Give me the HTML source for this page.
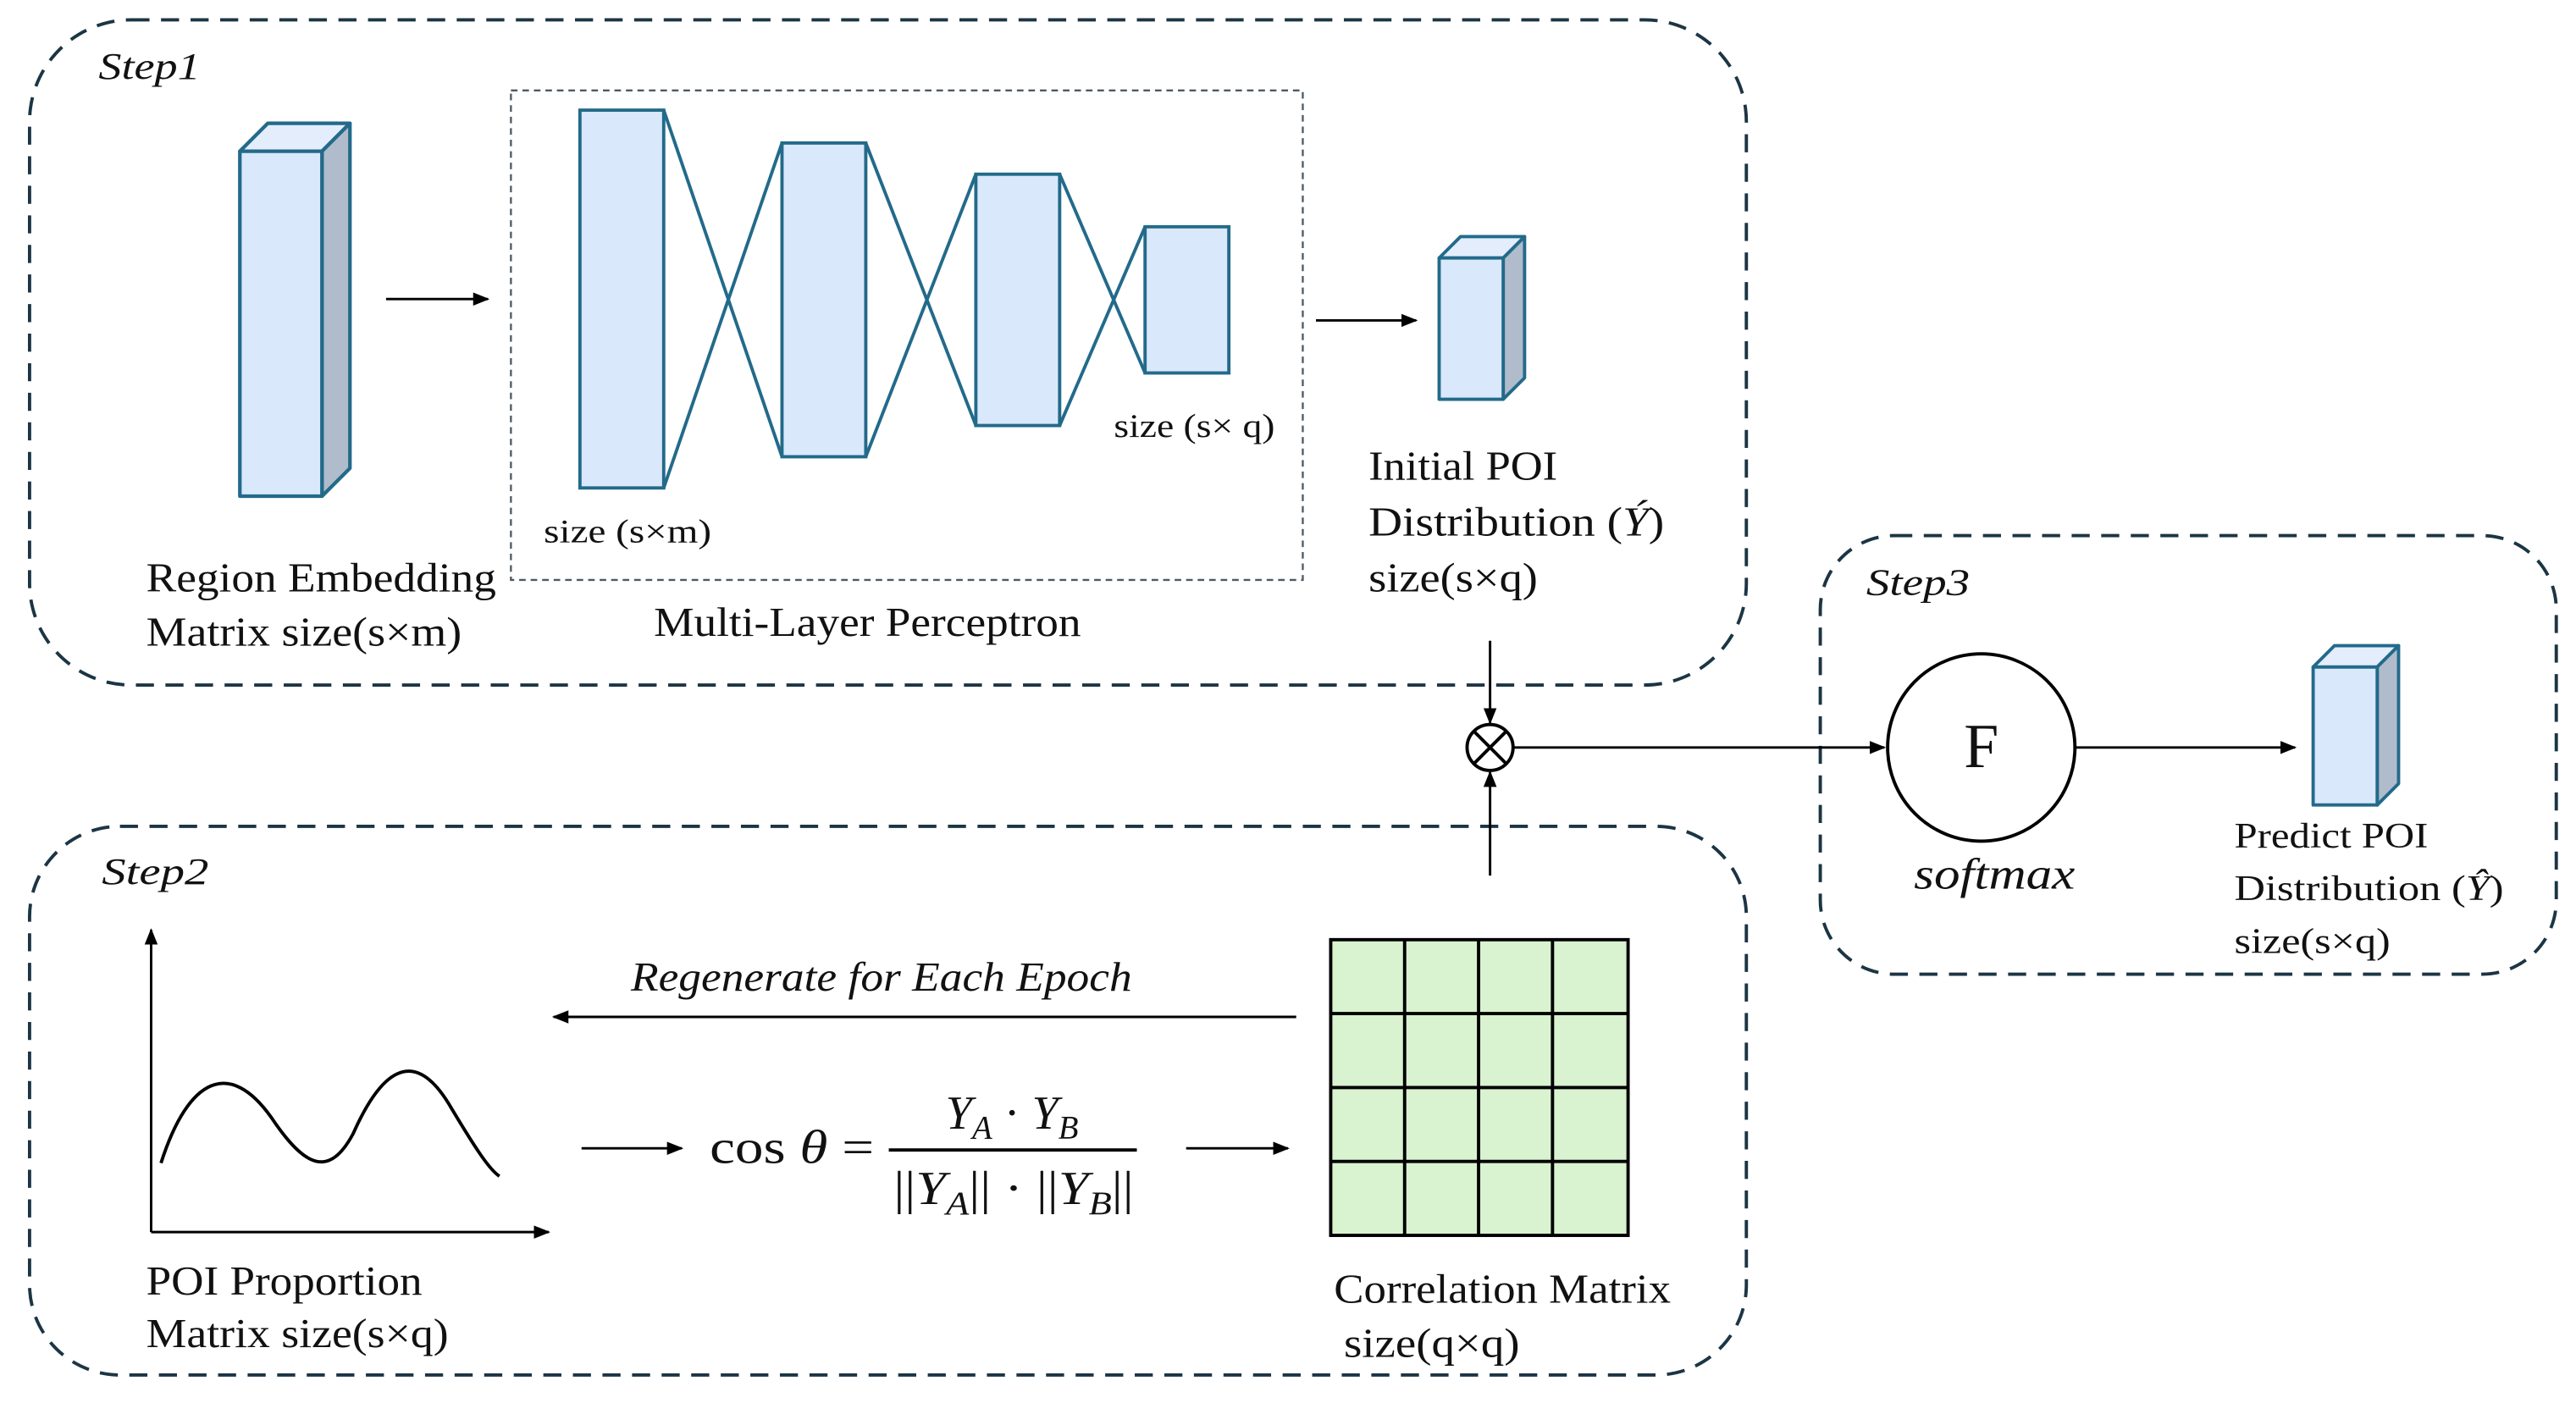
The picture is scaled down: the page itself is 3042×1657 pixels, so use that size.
<!DOCTYPE html>
<html><head><meta charset="utf-8"><style>
html,body{margin:0;padding:0;background:#fff;}
svg{display:block;}
</style></head><body>
<svg width="3042" height="1657" viewBox="0 0 1568 854" xmlns="http://www.w3.org/2000/svg" font-family="'Liberation Serif', 'DejaVu Serif', serif">
<defs>
<marker id="ah" markerWidth="10" markerHeight="8" refX="9" refY="4" orient="auto" markerUnits="userSpaceOnUse">
<path d="M0,0 L10,4 L0,8 Z" fill="#000"/></marker>
</defs>
<g fill="none" stroke="#1c3544" stroke-width="2" stroke-dasharray="11,7">
<rect x="18" y="12" width="1045" height="405" rx="62"/>
<rect x="18" y="503" width="1045" height="334" rx="55"/>
<rect x="1108" y="326" width="448" height="267" rx="45"/>
</g>
<rect x="311" y="55" width="482" height="298" fill="none" stroke="#4d5a64" stroke-width="1.2" stroke-dasharray="4,3"/>
<g font-style="italic" font-size="23" fill="#111" lengthAdjust="spacingAndGlyphs">
<text x="60" y="48" textLength="62" lengthAdjust="spacingAndGlyphs">Step1</text>
<text x="62" y="538" textLength="65" lengthAdjust="spacingAndGlyphs">Step2</text>
<text x="1136" y="362" textLength="63" lengthAdjust="spacingAndGlyphs">Step3</text>
</g>
<g stroke="#236a8a" stroke-width="2.2" stroke-linejoin="round">
<path d="M146,92 L163,75 L213,75 L196,92 Z" fill="#e3edfc"/>
<path d="M196,92 L213,75 L213,285 L196,302 Z" fill="#b0bccb"/>
<rect x="146" y="92" width="50" height="210" fill="#dae8fc"/>
</g>
<g stroke="#236a8a" stroke-width="2" fill="#dae8fc">
<line x1="404" y1="67" x2="476" y2="278"/><line x1="404" y1="297" x2="476" y2="87"/>
<line x1="527" y1="87" x2="594" y2="259"/><line x1="527" y1="278" x2="594" y2="106"/>
<line x1="645" y1="106" x2="697" y2="227"/><line x1="645" y1="259" x2="697" y2="138"/>
<rect x="353" y="67" width="51" height="230"/>
<rect x="476" y="87" width="51" height="191"/>
<rect x="594" y="106" width="51" height="153"/>
<rect x="697" y="138" width="51" height="89"/>
</g>
<g stroke="#236a8a" stroke-width="2" stroke-linejoin="round">
<path d="M876,157 L889,144 L928,144 L915,157 Z" fill="#e3edfc"/>
<path d="M915,157 L928,144 L928,230 L915,243 Z" fill="#b0bccb"/>
<rect x="876" y="157" width="39" height="86" fill="#dae8fc"/>
<path d="M1408,406 L1421,393 L1460,393 L1447,406 Z" fill="#e3edfc"/>
<path d="M1447,406 L1460,393 L1460,477 L1447,490 Z" fill="#b0bccb"/>
<rect x="1408" y="406" width="39" height="84" fill="#dae8fc"/>
</g>
<g stroke="#000" stroke-width="1.5" fill="none">
<line x1="235" y1="182" x2="297" y2="182" marker-end="url(#ah)"/>
<line x1="801" y1="195" x2="862" y2="195" marker-end="url(#ah)"/>
<line x1="907" y1="390" x2="907" y2="440" marker-end="url(#ah)"/>
<line x1="907" y1="533" x2="907" y2="470" marker-end="url(#ah)"/>
<line x1="921" y1="455" x2="1147" y2="455" marker-end="url(#ah)"/>
<line x1="1263" y1="455" x2="1397" y2="455" marker-end="url(#ah)"/>
<line x1="789" y1="619" x2="337" y2="619" marker-end="url(#ah)"/>
<line x1="354" y1="699" x2="415" y2="699" marker-end="url(#ah)"/>
<line x1="722" y1="699" x2="784" y2="699" marker-end="url(#ah)"/>
<line x1="92" y1="750" x2="92" y2="566" marker-end="url(#ah)"/>
<line x1="92" y1="750" x2="334" y2="750" marker-end="url(#ah)"/>
<path d="M98,708 C115,655 140,645 165,680 C185,710 200,718 215,690 C235,645 255,640 275,675 C290,700 298,712 304,716" stroke-width="2"/>
<circle cx="907" cy="455" r="14" stroke-width="2"/>
<line x1="897" y1="445" x2="917" y2="465" stroke-width="2"/>
<line x1="917" y1="445" x2="897" y2="465" stroke-width="2"/>
<circle cx="1206" cy="455" r="57" stroke-width="2"/>
</g>
<g fill="#111">
<text x="1206" y="467" font-size="38" text-anchor="middle">F</text>
<text x="1165" y="541" font-size="27" font-style="italic" textLength="98" lengthAdjust="spacingAndGlyphs">softmax</text>
</g>
<g stroke="#000" stroke-width="2">
<rect x="810" y="572" width="181" height="180" fill="#d9f2d0"/>
<line x1="855" y1="572" x2="855" y2="752"/><line x1="900" y1="572" x2="900" y2="752"/><line x1="945" y1="572" x2="945" y2="752"/>
<line x1="810" y1="617" x2="991" y2="617"/><line x1="810" y1="662" x2="991" y2="662"/><line x1="810" y1="707" x2="991" y2="707"/>
</g>
<g fill="#111">
<text x="432" y="708" font-size="29" textLength="100" lengthAdjust="spacingAndGlyphs">cos <tspan font-style="italic">θ</tspan> =</text>
<line x1="541" y1="700" x2="692" y2="700" stroke="#000" stroke-width="2"/>
<text x="616" y="687" font-size="29" text-anchor="middle"><tspan font-style="italic">Y</tspan><tspan font-size="20" font-style="italic" dy="6">A</tspan><tspan dy="-6"> · </tspan><tspan font-style="italic">Y</tspan><tspan font-size="20" font-style="italic" dy="6">B</tspan></text>
<text x="544" y="733" font-size="29" textLength="146" lengthAdjust="spacingAndGlyphs">||<tspan font-style="italic">Y</tspan><tspan font-size="20" font-style="italic" dy="6">A</tspan><tspan dy="-6">|| · ||</tspan><tspan font-style="italic">Y</tspan><tspan font-size="20" font-style="italic" dy="6">B</tspan><tspan dy="-6">||</tspan></text>
</g>
<g font-size="25" fill="#111">
<text x="89" y="360" textLength="213" lengthAdjust="spacingAndGlyphs">Region Embedding</text>
<text x="89" y="393" textLength="192" lengthAdjust="spacingAndGlyphs">Matrix size(s×m)</text>
<text x="398" y="387" textLength="260" lengthAdjust="spacingAndGlyphs">Multi-Layer Perceptron</text>
<text x="833" y="292" textLength="115" lengthAdjust="spacingAndGlyphs">Initial POI</text>
<text x="833" y="326" textLength="180" lengthAdjust="spacingAndGlyphs">Distribution (<tspan font-style="italic">Ý</tspan>)</text>
<text x="833" y="360" textLength="103" lengthAdjust="spacingAndGlyphs">size(s×q)</text>
<text x="89" y="788" textLength="168" lengthAdjust="spacingAndGlyphs">POI Proportion</text>
<text x="89" y="820" textLength="184" lengthAdjust="spacingAndGlyphs">Matrix size(s×q)</text>
<text x="812" y="793" textLength="205" lengthAdjust="spacingAndGlyphs">Correlation Matrix</text>
<text x="818" y="826" textLength="107" lengthAdjust="spacingAndGlyphs">size(q×q)</text>
<text x="384" y="603" font-style="italic" textLength="305" lengthAdjust="spacingAndGlyphs">Regenerate for Each Epoch</text>
</g>
<g font-size="20" fill="#111">
<text x="331" y="330" textLength="102" lengthAdjust="spacingAndGlyphs">size (s×m)</text>
<text x="678" y="266" textLength="98" lengthAdjust="spacingAndGlyphs">size (s× q)</text>
</g>
<g font-size="22" fill="#111">
<text x="1360" y="516" textLength="118" lengthAdjust="spacingAndGlyphs">Predict POI</text>
<text x="1360" y="548" textLength="164" lengthAdjust="spacingAndGlyphs">Distribution (<tspan font-style="italic">Ŷ</tspan>)</text>
<text x="1360" y="580" textLength="95" lengthAdjust="spacingAndGlyphs">size(s×q)</text>
</g>
</svg>
</body></html>
